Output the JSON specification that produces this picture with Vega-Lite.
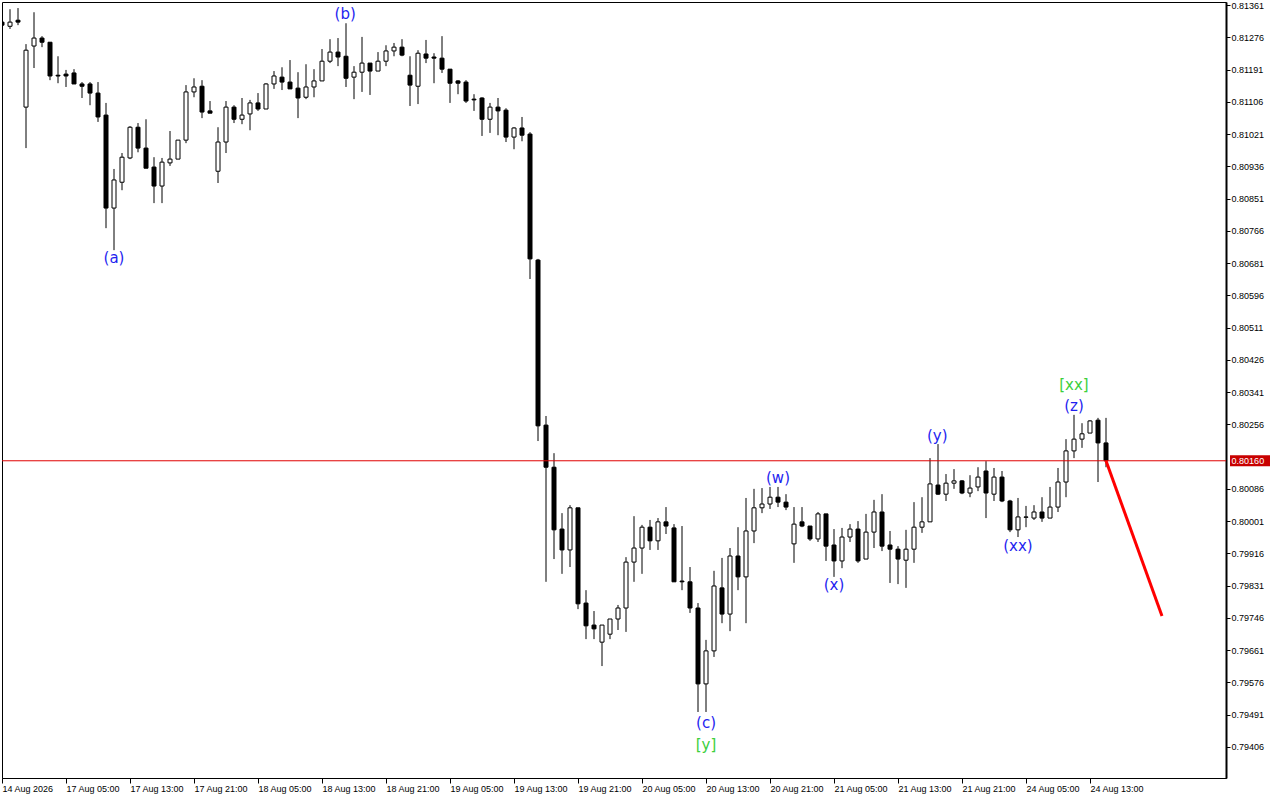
{
  "$schema": "https://vega.github.io/schema/vega-lite/v6.json",
  "width": 1224,
  "height": 776,
  "autosize": "none",
  "padding": {"left": 2, "top": 2, "right": 54, "bottom": 22},
  "background": "white",
  "config": {
    "view": {"stroke": "black", "strokeWidth": 1},
    "font": "Liberation Sans",
    "axis": {"labelFont": "Liberation Sans", "labelFontSize": 9, "labelColor": "black", "tickColor": "black", "domainColor": "black", "grid": false, "title": null, "labelOverlap": false, "labelFlush": false, "labelBound": false}
  },
  "datasets": {
    "bars": [
      {"i":1,"o":0.81316,"h":0.81319,"l":0.81303,"c":0.81308},
      {"i":2,"o":0.81305,"h":0.81350,"l":0.81298,"c":0.81316},
      {"i":3,"o":0.81321,"h":0.81353,"l":0.81308,"c":0.81316},
      {"i":4,"o":0.81092,"h":0.81258,"l":0.80984,"c":0.81242},
      {"i":5,"o":0.81253,"h":0.81342,"l":0.81195,"c":0.81274},
      {"i":6,"o":0.81274,"h":0.81279,"l":0.81250,"c":0.81263},
      {"i":7,"o":0.81263,"h":0.81263,"l":0.81163,"c":0.81174},
      {"i":8,"o":0.81176,"h":0.81226,"l":0.81155,"c":0.81174},
      {"i":9,"o":0.81179,"h":0.81190,"l":0.81145,"c":0.81174},
      {"i":10,"o":0.81182,"h":0.81192,"l":0.81153,"c":0.81153},
      {"i":11,"o":0.81153,"h":0.81158,"l":0.81116,"c":0.81147},
      {"i":12,"o":0.81153,"h":0.81158,"l":0.81097,"c":0.81129},
      {"i":13,"o":0.81129,"h":0.81158,"l":0.81053,"c":0.81066},
      {"i":14,"o":0.81071,"h":0.81103,"l":0.80773,"c":0.80826},
      {"i":15,"o":0.80826,"h":0.80929,"l":0.80715,"c":0.80900},
      {"i":16,"o":0.80894,"h":0.80971,"l":0.80873,"c":0.80960},
      {"i":17,"o":0.80958,"h":0.81042,"l":0.80955,"c":0.81039},
      {"i":18,"o":0.81039,"h":0.81050,"l":0.80973,"c":0.80984},
      {"i":19,"o":0.80984,"h":0.81060,"l":0.80931,"c":0.80931},
      {"i":20,"o":0.80934,"h":0.80960,"l":0.80839,"c":0.80884},
      {"i":21,"o":0.80884,"h":0.80958,"l":0.80839,"c":0.80947},
      {"i":22,"o":0.80945,"h":0.81029,"l":0.80937,"c":0.80955},
      {"i":23,"o":0.80955,"h":0.81005,"l":0.80955,"c":0.81005},
      {"i":24,"o":0.81005,"h":0.81150,"l":0.80997,"c":0.81132},
      {"i":25,"o":0.81132,"h":0.81168,"l":0.81118,"c":0.81145},
      {"i":26,"o":0.81147,"h":0.81163,"l":0.81063,"c":0.81079},
      {"i":27,"o":0.81082,"h":0.81108,"l":0.81076,"c":0.81076},
      {"i":28,"o":0.80923,"h":0.81039,"l":0.80892,"c":0.81000},
      {"i":29,"o":0.81000,"h":0.81108,"l":0.80971,"c":0.81092},
      {"i":30,"o":0.81092,"h":0.81097,"l":0.81050,"c":0.81060},
      {"i":31,"o":0.81060,"h":0.81116,"l":0.81047,"c":0.81071},
      {"i":32,"o":0.81074,"h":0.81111,"l":0.81031,"c":0.81103},
      {"i":33,"o":0.81103,"h":0.81129,"l":0.81082,"c":0.81087},
      {"i":34,"o":0.81087,"h":0.81155,"l":0.81087,"c":0.81153},
      {"i":35,"o":0.81153,"h":0.81187,"l":0.81140,"c":0.81174},
      {"i":36,"o":0.81171,"h":0.81197,"l":0.81137,"c":0.81158},
      {"i":37,"o":0.81158,"h":0.81216,"l":0.81140,"c":0.81140},
      {"i":38,"o":0.81142,"h":0.81184,"l":0.81063,"c":0.81116},
      {"i":39,"o":0.81118,"h":0.81205,"l":0.81113,"c":0.81145},
      {"i":40,"o":0.81145,"h":0.81192,"l":0.81118,"c":0.81161},
      {"i":41,"o":0.81161,"h":0.81245,"l":0.81161,"c":0.81213},
      {"i":42,"o":0.81213,"h":0.81271,"l":0.81208,"c":0.81237},
      {"i":43,"o":0.81237,"h":0.81274,"l":0.81200,"c":0.81224},
      {"i":44,"o":0.81226,"h":0.81313,"l":0.81145,"c":0.81168},
      {"i":45,"o":0.81171,"h":0.81200,"l":0.81113,"c":0.81184},
      {"i":46,"o":0.81184,"h":0.81277,"l":0.81132,"c":0.81208},
      {"i":47,"o":0.81208,"h":0.81208,"l":0.81124,"c":0.81187},
      {"i":48,"o":0.81187,"h":0.81237,"l":0.81187,"c":0.81213},
      {"i":49,"o":0.81213,"h":0.81255,"l":0.81200,"c":0.81240},
      {"i":50,"o":0.81240,"h":0.81261,"l":0.81226,"c":0.81250},
      {"i":51,"o":0.81250,"h":0.81271,"l":0.81226,"c":0.81229},
      {"i":52,"o":0.81176,"h":0.81226,"l":0.81095,"c":0.81150},
      {"i":53,"o":0.81147,"h":0.81242,"l":0.81100,"c":0.81234},
      {"i":54,"o":0.81232,"h":0.81269,"l":0.81208,"c":0.81221},
      {"i":55,"o":0.81224,"h":0.81234,"l":0.81155,"c":0.81221},
      {"i":56,"o":0.81221,"h":0.81279,"l":0.81182,"c":0.81192},
      {"i":57,"o":0.81192,"h":0.81192,"l":0.81103,"c":0.81155},
      {"i":58,"o":0.81161,"h":0.81163,"l":0.81126,"c":0.81155},
      {"i":59,"o":0.81158,"h":0.81163,"l":0.81103,"c":0.81108},
      {"i":60,"o":0.81113,"h":0.81126,"l":0.81082,"c":0.81111},
      {"i":61,"o":0.81116,"h":0.81118,"l":0.81016,"c":0.81060},
      {"i":62,"o":0.81060,"h":0.81103,"l":0.81024,"c":0.81092},
      {"i":63,"o":0.81092,"h":0.81116,"l":0.81018,"c":0.81082},
      {"i":64,"o":0.81084,"h":0.81089,"l":0.81000,"c":0.81013},
      {"i":65,"o":0.81013,"h":0.81039,"l":0.80981,"c":0.81037},
      {"i":66,"o":0.81037,"h":0.81066,"l":0.81002,"c":0.81018},
      {"i":67,"o":0.81021,"h":0.81026,"l":0.80639,"c":0.80692},
      {"i":68,"o":0.80689,"h":0.80692,"l":0.80212,"c":0.80252},
      {"i":69,"o":0.80254,"h":0.80278,"l":0.79841,"c":0.80143},
      {"i":70,"o":0.80143,"h":0.80180,"l":0.79901,"c":0.79978},
      {"i":71,"o":0.79980,"h":0.80022,"l":0.79862,"c":0.79925},
      {"i":72,"o":0.79925,"h":0.80043,"l":0.79880,"c":0.80036},
      {"i":73,"o":0.80036,"h":0.80036,"l":0.79769,"c":0.79783},
      {"i":74,"o":0.79785,"h":0.79819,"l":0.79690,"c":0.79725},
      {"i":75,"o":0.79727,"h":0.79764,"l":0.79690,"c":0.79717},
      {"i":76,"o":0.79682,"h":0.79727,"l":0.79619,"c":0.79727},
      {"i":77,"o":0.79703,"h":0.79743,"l":0.79690,"c":0.79743},
      {"i":78,"o":0.79743,"h":0.79780,"l":0.79714,"c":0.79772},
      {"i":79,"o":0.79772,"h":0.79906,"l":0.79709,"c":0.79893},
      {"i":80,"o":0.79893,"h":0.80014,"l":0.79841,"c":0.79930},
      {"i":81,"o":0.79930,"h":0.79991,"l":0.79862,"c":0.79985},
      {"i":82,"o":0.79985,"h":0.80004,"l":0.79925,"c":0.79949},
      {"i":83,"o":0.79949,"h":0.80009,"l":0.79925,"c":0.79999},
      {"i":84,"o":0.79999,"h":0.80038,"l":0.79967,"c":0.79988},
      {"i":85,"o":0.79983,"h":0.79993,"l":0.79841,"c":0.79841},
      {"i":86,"o":0.79843,"h":0.79988,"l":0.79819,"c":0.79841},
      {"i":87,"o":0.79841,"h":0.79880,"l":0.79759,"c":0.79772},
      {"i":88,"o":0.79772,"h":0.79785,"l":0.79498,"c":0.79572},
      {"i":89,"o":0.79572,"h":0.79688,"l":0.79498,"c":0.79659},
      {"i":90,"o":0.79659,"h":0.79870,"l":0.79643,"c":0.79830},
      {"i":91,"o":0.79825,"h":0.79904,"l":0.79732,"c":0.79756},
      {"i":92,"o":0.79756,"h":0.79930,"l":0.79711,"c":0.79909},
      {"i":93,"o":0.79909,"h":0.79985,"l":0.79819,"c":0.79854},
      {"i":94,"o":0.79854,"h":0.80062,"l":0.79732,"c":0.79975},
      {"i":95,"o":0.79975,"h":0.80086,"l":0.79943,"c":0.80036},
      {"i":96,"o":0.80036,"h":0.80088,"l":0.80022,"c":0.80046},
      {"i":97,"o":0.80046,"h":0.80091,"l":0.80033,"c":0.80064},
      {"i":98,"o":0.80064,"h":0.80091,"l":0.80038,"c":0.80051},
      {"i":99,"o":0.80051,"h":0.80072,"l":0.80030,"c":0.80038},
      {"i":100,"o":0.79941,"h":0.80038,"l":0.79891,"c":0.79993},
      {"i":101,"o":0.79999,"h":0.80038,"l":0.79985,"c":0.79988},
      {"i":102,"o":0.79988,"h":0.79988,"l":0.79949,"c":0.79954},
      {"i":103,"o":0.79954,"h":0.80025,"l":0.79946,"c":0.80020},
      {"i":104,"o":0.80020,"h":0.80020,"l":0.79896,"c":0.79935},
      {"i":105,"o":0.79938,"h":0.79980,"l":0.79854,"c":0.79896},
      {"i":106,"o":0.79896,"h":0.79983,"l":0.79877,"c":0.79959},
      {"i":107,"o":0.79959,"h":0.79993,"l":0.79946,"c":0.79980},
      {"i":108,"o":0.79980,"h":0.80001,"l":0.79891,"c":0.79896},
      {"i":109,"o":0.79901,"h":0.80020,"l":0.79901,"c":0.79972},
      {"i":110,"o":0.79972,"h":0.80057,"l":0.79930,"c":0.80025},
      {"i":111,"o":0.80025,"h":0.80072,"l":0.79922,"c":0.79935},
      {"i":112,"o":0.79938,"h":0.79975,"l":0.79838,"c":0.79927},
      {"i":113,"o":0.79927,"h":0.79935,"l":0.79835,"c":0.79901},
      {"i":114,"o":0.79898,"h":0.79978,"l":0.79825,"c":0.79927},
      {"i":115,"o":0.79927,"h":0.80051,"l":0.79891,"c":0.79985},
      {"i":116,"o":0.79985,"h":0.80064,"l":0.79970,"c":0.79999},
      {"i":117,"o":0.79999,"h":0.80167,"l":0.79999,"c":0.80099},
      {"i":118,"o":0.80096,"h":0.80204,"l":0.80070,"c":0.80072},
      {"i":119,"o":0.80072,"h":0.80125,"l":0.80054,"c":0.80101},
      {"i":120,"o":0.80101,"h":0.80138,"l":0.80086,"c":0.80107},
      {"i":121,"o":0.80107,"h":0.80109,"l":0.80072,"c":0.80075},
      {"i":122,"o":0.80075,"h":0.80122,"l":0.80064,"c":0.80088},
      {"i":123,"o":0.80091,"h":0.80143,"l":0.80080,"c":0.80117},
      {"i":124,"o":0.80133,"h":0.80159,"l":0.80009,"c":0.80075},
      {"i":125,"o":0.80072,"h":0.80141,"l":0.80054,"c":0.80117},
      {"i":126,"o":0.80117,"h":0.80133,"l":0.80051,"c":0.80054},
      {"i":127,"o":0.80054,"h":0.80057,"l":0.79972,"c":0.79978},
      {"i":128,"o":0.79978,"h":0.80062,"l":0.79959,"c":0.80012},
      {"i":129,"o":0.80011,"h":0.80041,"l":0.79985,"c":0.80012},
      {"i":130,"o":0.80009,"h":0.80043,"l":0.80004,"c":0.80025},
      {"i":131,"o":0.80025,"h":0.80064,"l":0.79999,"c":0.80009},
      {"i":132,"o":0.80009,"h":0.80091,"l":0.80009,"c":0.80038},
      {"i":133,"o":0.80038,"h":0.80141,"l":0.80025,"c":0.80104},
      {"i":134,"o":0.80104,"h":0.80217,"l":0.80064,"c":0.80186},
      {"i":135,"o":0.80186,"h":0.80281,"l":0.80167,"c":0.80217},
      {"i":136,"o":0.80217,"h":0.80259,"l":0.80194,"c":0.80231},
      {"i":137,"o":0.80233,"h":0.80267,"l":0.80233,"c":0.80265},
      {"i":138,"o":0.80267,"h":0.80273,"l":0.80104,"c":0.80207},
      {"i":139,"o":0.80207,"h":0.80273,"l":0.80143,"c":0.80160}
    ],
    "waves": [
      {"i":15,"p":0.80694,"label":"(a)","degree":"minor"},
      {"i":43.9,"p":0.81337,"label":"(b)","degree":"minor"},
      {"i":89,"p":0.79469,"label":"(c)","degree":"minor"},
      {"i":89,"p":0.79411,"label":"[y]","degree":"major"},
      {"i":98,"p":0.80114,"label":"(w)","degree":"minor"},
      {"i":105,"p":0.79833,"label":"(x)","degree":"minor"},
      {"i":117.9,"p":0.80225,"label":"(y)","degree":"minor"},
      {"i":128,"p":0.79935,"label":"(xx)","degree":"minor"},
      {"i":135,"p":0.80304,"label":"(z)","degree":"minor"},
      {"i":135,"p":0.80360,"label":"[xx]","degree":"major"}
    ],
    "forecast": [
      {"i":139,"p":0.80160},
      {"i":146,"p":0.79751}
    ],
    "bid": [
      {"price":0.80160}
    ]
  },
  "layer": [
    {
      "data": {"name": "bars"},
      "mark": {"type": "rule", "color": "black", "strokeWidth": 1, "clip": true},
      "encoding": {
        "x": {
          "field": "i", "type": "quantitative",
          "scale": {"domain": [1, 154], "nice": false, "zero": false, "padding": 0},
          "axis": {
            "orient": "bottom",
            "values": [1, 9, 17, 25, 33, 41, 49, 57, 65, 73, 81, 89, 97, 105, 113, 121, 129, 137],
            "tickCount": 40,
            "labelExpr": "['14 Aug 2026','17 Aug 05:00','17 Aug 13:00','17 Aug 21:00','18 Aug 05:00','18 Aug 13:00','18 Aug 21:00','19 Aug 05:00','19 Aug 13:00','19 Aug 21:00','20 Aug 05:00','20 Aug 13:00','20 Aug 21:00','21 Aug 05:00','21 Aug 13:00','21 Aug 21:00','24 Aug 05:00','24 Aug 13:00'][floor((datum.value - 1) / 8)]",
            "labelAlign": "left",
            "labelBaseline": "top",
            "labelPadding": 1,
            "labelOverlap": false,
            "tickSize": 5,
            "domainWidth": 1
          }
        },
        "y": {
          "field": "l", "type": "quantitative",
          "scale": {"domain": [0.79324, 0.81369], "nice": false, "zero": false, "padding": 0},
          "axis": {
            "orient": "right",
            "values": [0.81361, 0.81276, 0.81191, 0.81106, 0.81021, 0.80936, 0.80851, 0.80766, 0.80681, 0.80596, 0.80511, 0.80426, 0.80341, 0.80256, 0.80086, 0.80001, 0.79916, 0.79831, 0.79746, 0.79661, 0.79576, 0.79491, 0.79406],
            "tickCount": 40,
            "format": ".5f",
            "labelAlign": "left",
            "labelBaseline": "middle",
            "labelPadding": 1,
            "labelOverlap": false,
            "tickSize": 4,
            "domainWidth": 2
          }
        },
        "y2": {"field": "h"}
      }
    },
    {
      "data": {"name": "bars"},
      "mark": {"type": "bar", "orient": "vertical", "size": 4, "stroke": "black", "strokeWidth": 1, "clip": true},
      "encoding": {
        "x": {"field": "i", "type": "quantitative"},
        "y": {"field": "o", "type": "quantitative"},
        "y2": {"field": "c"},
        "fill": {"condition": {"test": "datum.o > datum.c", "value": "black"}, "value": "white"}
      }
    },
    {
      "data": {"name": "bid"},
      "mark": {"type": "rule", "color": "#e00000", "strokeWidth": 1},
      "encoding": {
        "y": {"field": "price", "type": "quantitative"}
      }
    },
    {
      "data": {"name": "forecast"},
      "mark": {"type": "line", "color": "#ff0000", "strokeWidth": 3, "clip": false},
      "encoding": {
        "x": {"field": "i", "type": "quantitative"},
        "y": {"field": "p", "type": "quantitative"}
      }
    },
    {
      "data": {"name": "waves"},
      "mark": {"type": "text", "font": "DejaVu Sans", "fontSize": 15, "align": "center", "baseline": "middle"},
      "encoding": {
        "x": {"field": "i", "type": "quantitative"},
        "y": {"field": "p", "type": "quantitative"},
        "text": {"field": "label"},
        "color": {"field": "degree", "type": "nominal", "scale": {"domain": ["minor", "major"], "range": ["#1f1ff0", "#3ccf3c"]}, "legend": null}
      }
    },
    {
      "data": {"name": "bid"},
      "mark": {"type": "bar", "orient": "horizontal", "size": 11, "color": "#c80000", "clip": false},
      "encoding": {
        "x": {"datum": 154.5},
        "x2": {"datum": 159.5},
        "y": {"field": "price", "type": "quantitative"}
      }
    },
    {
      "data": {"name": "bid"},
      "mark": {"type": "text", "font": "Liberation Sans", "fontSize": 9, "color": "white", "align": "left", "baseline": "middle", "clip": false},
      "encoding": {
        "x": {"datum": 154.7},
        "y": {"field": "price", "type": "quantitative"},
        "text": {"field": "price", "type": "quantitative", "format": ".5f"}
      }
    }
  ]
}
